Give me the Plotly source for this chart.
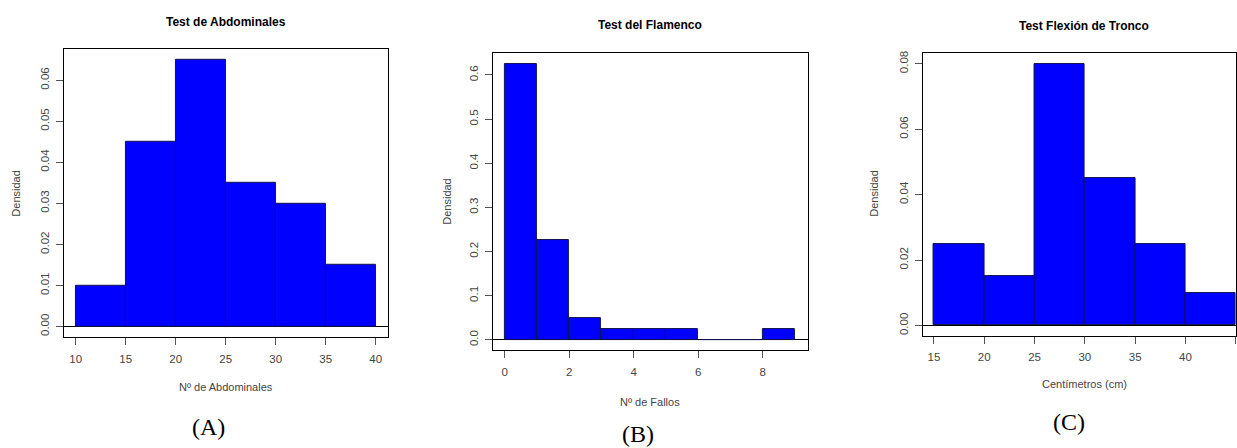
import plotly.graph_objects as go

W, H = 1237, 448

# ---- data: histogram bin edges and densities ----
abd_edges = [10, 15, 20, 25, 30, 35, 40]
abd_density = [0.010, 0.045, 0.065, 0.035, 0.030, 0.015]
abd_xticks = [10, 15, 20, 25, 30, 35, 40]
abd_yticks = [0.00, 0.01, 0.02, 0.03, 0.04, 0.05, 0.06]

fla_edges = [0, 1, 2, 3, 4, 5, 6, 7, 8, 9]
fla_density = [0.625, 0.225, 0.050, 0.025, 0.025, 0.025, 0.0, 0.0, 0.025]
fla_xticks = [0, 2, 4, 6, 8]
fla_yticks = [0.0, 0.1, 0.2, 0.3, 0.4, 0.5, 0.6]

flex_edges = [15, 20, 25, 30, 35, 40, 45]
flex_density = [0.025, 0.015, 0.080, 0.045, 0.025, 0.010]
flex_xticks = [15, 20, 25, 30, 35, 40, 45]
flex_yticks = [0.00, 0.02, 0.04, 0.06, 0.08]

titles = ["Test de Abdominales", "Test del Flamenco", "Test Flexión de Tronco"]
xlabels = ["Nº de Abdominales", "Nº de Fallos", "Centímetros (cm)"]
ylabel = "Densidad"
panel_tags = ["(A)", "(B)", "(C)"]


def px(x):
    return x / W


def py(y):
    return 1 - y / H


SANS = "Liberation Sans, Arial, sans-serif"
SERIF = "Liberation Serif, Times New Roman, serif"

# per-panel layout in pixels: plot box, axis ranges, label anchors
panels = [
    dict(edges=abd_edges, dens=abd_density, xt=abd_xticks, yt=abd_yticks, yfmt=".2f",
         box=(64, 388, 47, 337), xr=(8.83, 41.2), yr=(-0.00267, 0.06764),
         title=(226, 20), xlab=(226, 387), ylab=(16.5, 192), tag=(209, 427)),
    dict(edges=fla_edges, dens=fla_density, xt=fla_xticks, yt=fla_yticks, yfmt=".1f",
         box=(493.3, 808.3, 51.3, 350), xr=(-0.362, 9.394), yr=(-0.0241, 0.6496),
         title=(651, 23), xlab=(651, 402), ylab=(447, 201), tag=(639, 434)),
    dict(edges=flex_edges, dens=flex_density, xt=flex_xticks, yt=flex_yticks, yfmt=".2f",
         box=(923.3, 1237, 51.3, 335), xr=(13.87, 45.02), yr=(-0.00304, 0.08325),
         title=(1085, 24), xlab=(1085, 384), ylab=(875.3, 193), tag=(1070, 422)),
]

fig = go.Figure()
annotations = []

for i, p in enumerate(panels, start=1):
    xa = "x" if i == 1 else f"x{i}"
    ya = "y" if i == 1 else f"y{i}"
    edges = p["edges"]
    widths = [b - a for a, b in zip(edges[:-1], edges[1:])]
    fig.add_trace(go.Bar(
        x=edges[:-1], y=p["dens"], width=widths, offset=0,
        marker=dict(color="#0000FF", line=dict(color="#12124a", width=1)),
        xaxis=xa, yaxis=ya, showlegend=False, hoverinfo="skip",
    ))

    x0, x1, y0, y1 = p["box"]
    axis_common = dict(
        showgrid=False, showline=True, linecolor="black", linewidth=1, mirror=True,
        ticks="outside", ticklen=7, tickcolor="#555555", tickwidth=1,
        tickfont=dict(family=SANS, size=11.5, color="#444444"),
    )
    fig.update_layout({
        f"xaxis{'' if i == 1 else i}": dict(
            axis_common, domain=[px(x0), px(x1)], range=list(p["xr"]),
            tickmode="array", tickvals=p["xt"], zeroline=False,
            anchor=ya, ticklabelstandoff=4,
        ),
        f"yaxis{'' if i == 1 else i}": dict(
            axis_common, domain=[py(y1), py(y0)], range=list(p["yr"]),
            tickmode="array", tickvals=p["yt"], tickformat=p["yfmt"],
            tickangle=-90, zeroline=True, zerolinecolor="black", zerolinewidth=1.3,
            anchor=xa, ticklabelstandoff=2,
        ),
    })

    tx, ty = p["title"]
    annotations.append(dict(text=f"<b>{titles[i-1]}</b>", x=px(tx), y=py(ty),
                            xref="paper", yref="paper", showarrow=False,
                            xanchor="center", yanchor="middle",
                            font=dict(family=SANS, size=12, color="black")))
    lx, ly = p["xlab"]
    annotations.append(dict(text=xlabels[i-1], x=px(lx), y=py(ly),
                            xref="paper", yref="paper", showarrow=False,
                            xanchor="center", yanchor="middle",
                            font=dict(family=SANS, size=11, color="#444444")))
    vx, vy = p["ylab"]
    annotations.append(dict(text=ylabel, x=px(vx), y=py(vy), textangle=-90,
                            xref="paper", yref="paper", showarrow=False,
                            xanchor="center", yanchor="middle",
                            font=dict(family=SANS, size=11, color="#444444")))
    gx, gy = p["tag"]
    annotations.append(dict(text=panel_tags[i-1], x=px(gx), y=py(gy),
                            xref="paper", yref="paper", showarrow=False,
                            xanchor="center", yanchor="middle",
                            font=dict(family=SERIF, size=24, color="black")))

fig.update_layout(
    width=W, height=H, margin=dict(l=0, r=0, t=0, b=0),
    paper_bgcolor="white", plot_bgcolor="white",
    bargap=0, annotations=annotations,
)

fig.write_html("out.html", config={"displayModeBar": False})
